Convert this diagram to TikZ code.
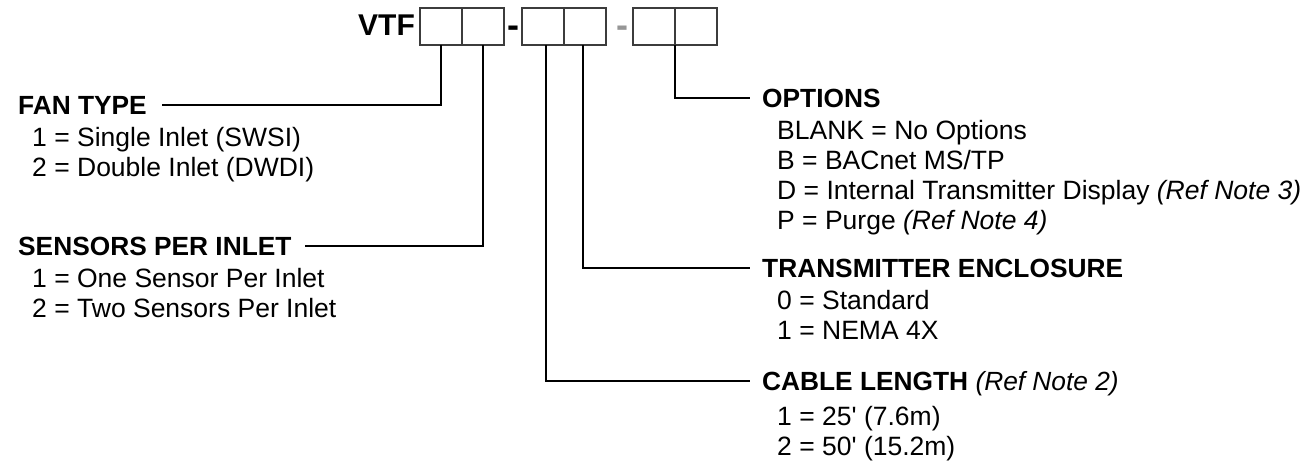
\documentclass[tikz,border=0pt]{standalone}
\usepackage{fontspec}
\setmainfont{Liberation Sans}[Ligatures=TeXOff]
\definecolor{boxgray}{RGB}{60,60,60}
\definecolor{dashgray}{RGB}{150,150,150}
\begin{document}
\begin{tikzpicture}[x=1pt,y=-1pt,
  lbl/.style={anchor=base west,inner sep=0pt,font=\fontsize{26.5}{30}\selectfont},
  hdr/.style={anchor=base west,inner sep=0pt,font=\fontsize{26.3}{30}\selectfont\bfseries},
  cbox/.style={draw=boxgray,line width=2pt,minimum width=42pt,minimum height=36.5pt,inner sep=0pt,outer sep=0pt},
  lead/.style={line width=2pt,black},
  dsh/.style={anchor=base,inner sep=0pt,font=\fontsize{36}{36}\selectfont\bfseries}]
\useasboundingbox (0,0) rectangle (1306,464);

% code boxes
\node[cbox] (b1) at (441,26.5) {};
\node[cbox] (b2) at (483,26.5) {};
\node[cbox] (b3) at (543,26.5) {};
\node[cbox] (b4) at (585,26.5) {};
\node[cbox] (b5) at (654,26.5) {};
\node[cbox] (b6) at (696,26.5) {};

\node[anchor=base west,inner sep=0pt,font=\fontsize{30}{30}\selectfont\bfseries] (vtf) at (358,35) {VTF};
\node[dsh] (d1) at (513,37) {-};
\node[dsh,text=dashgray] (d2) at (622,37) {-};

% left column
\node[hdr] (ft) at (18,114) {FAN TYPE};
\node[lbl] (ft1) at (32,146) {1 = Single Inlet (SWSI)};
\node[lbl] (ft2) at (32,176) {2 = Double Inlet (DWDI)};
\node[hdr] (sp) at (18,255) {SENSORS PER INLET};
\node[lbl] (sp1) at (32,287) {1 = One Sensor Per Inlet};
\node[lbl] (sp2) at (32,317) {2 = Two Sensors Per Inlet};

% right column
\node[hdr] (op) at (762,107) {OPTIONS};
\node[lbl] (op1) at (777,139) {BLANK = No Options};
\node[lbl] (op2) at (777,169) {B = BACnet MS/TP};
\node[lbl] (op3) at (777,199) {D = Internal Transmitter Display \textit{(Ref Note 3)}};
\node[lbl] (op4) at (777,229) {P = Purge \textit{(Ref Note 4)}};
\node[hdr] (te) at (762,277) {TRANSMITTER ENCLOSURE};
\node[lbl] (te1) at (777,309) {0 = Standard};
\node[lbl] (te2) at (777,339) {1 = NEMA 4X};
\node[hdr] (cl) at (762,390) {CABLE LENGTH {\mdseries\itshape (Ref Note 2)}};
\node[lbl] (cl1) at (777,425) {1 = 25' (7.6m)};
\node[lbl] (cl2) at (777,455) {2 = 50' (15.2m)};

% leaders
\coordinate (ftL) at (162,105);
\coordinate (spL) at (305,246);
\coordinate (opL) at (750,98);
\coordinate (teL) at (750,268);
\coordinate (clL) at (750,381);
\draw[lead] (b1.south) |- (ftL);
\draw[lead] (b2.south) |- (spL);
\draw[lead] ([xshift=3pt]b3.south) |- (clL);
\draw[lead] ([xshift=-2.5pt]b4.south) |- (teL);
\draw[lead] (b5.south east) |- (opL);
\end{tikzpicture}
\end{document}
